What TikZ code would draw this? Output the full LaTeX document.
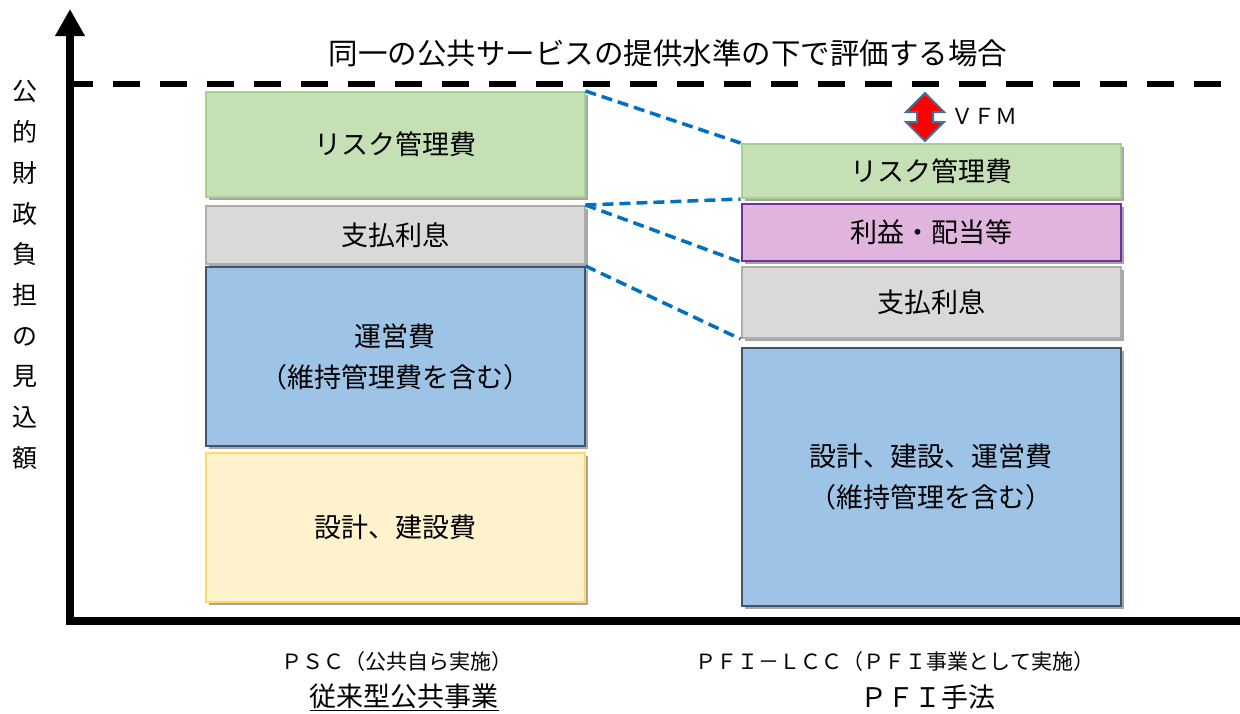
\documentclass[tikz,border=0pt]{standalone}
\usepackage{fontspec}
\setmainfont{Noto Sans CJK JP}
\usetikzlibrary{arrows.meta, positioning, shapes.arrows, shadows}

\definecolor{riskfill}{HTML}{C5E0B4}
\definecolor{riskline}{HTML}{A9D18E}
\definecolor{intfill}{HTML}{D9D9D9}
\definecolor{intline}{HTML}{ADADAD}
\definecolor{opfill}{HTML}{9DC3E6}
\definecolor{opline}{HTML}{44546A}
\definecolor{confill}{HTML}{FFF2CC}
\definecolor{conline}{HTML}{FFD966}
\definecolor{proffill}{HTML}{E0B4DC}
\definecolor{profline}{HTML}{7030A0}
\definecolor{linkblue}{HTML}{0070C0}
\definecolor{vfmline}{HTML}{41719C}

\begin{document}
\begin{tikzpicture}[x=1pt, y=-1pt, node distance=6pt,
    cost/.style={minimum width=379pt, inner sep=0pt, align=center, line width=2pt,
        font=\fontsize{27}{41}\selectfont,
        drop shadow={shadow xshift=3pt, shadow yshift=-3pt, opacity=0.35, fill=black}},
    riskbox/.style={cost, fill=riskfill, draw=riskline},
    intbox/.style={cost, fill=intfill, draw=intline},
    opbox/.style={cost, fill=opfill, draw=opline},
    conbox/.style={cost, fill=confill, draw=conline},
    profbox/.style={cost, fill=proffill, draw=profline},
    link/.style={draw=linkblue, line width=3.5pt, dash pattern=on 11pt off 6pt},
    sublabel/.style={font=\fontsize{21}{25}\selectfont},
    namelabel/.style={font=\fontsize{27}{32}\selectfont}]
    \useasboundingbox (0,0) rectangle (1240,713);

    % level of the public service
    \coordinate (lvlL) at (66,84);
    \coordinate (lvlR) at (1240,84);
    \draw[line width=6pt, dash pattern=on 27pt off 20pt] (lvlL) -- (lvlR);
    \node[font=\fontsize{29.5}{35}\selectfont] (title) at (668,53) {同一の公共サービスの提供水準の下で評価する場合};

    % axes
    \coordinate (origin) at (70,625);
    \coordinate (ytop) at (70,9);
    \coordinate (xleft) at (66,621);
    \coordinate (xend) at (1240,621);
    \draw[line width=8pt, -{Triangle[width=28pt, length=27pt]}] (origin) -- (ytop);
    \draw[line width=8pt] (xleft) -- (xend);
    \node[font=\fontsize{25}{40.7}\selectfont, align=center] (ylabel) at (25,275) {公\\的\\財\\政\\負\\担\\の\\見\\込\\額};

    % PSC
    \node[riskbox, minimum height=105pt] (riskL) at (395,144.5) {リスク管理費};
    \node[intbox, minimum height=58pt, below=7pt of riskL] (intL) {支払利息};
    \node[opbox, minimum height=179pt, below=1pt of intL] (opL) {運営費\\（維持管理費を含む）};
    \node[conbox, minimum height=149pt, below=5pt of opL] (conL) {設計、建設費};

    % PFI-LCC
    \node[riskbox, minimum height=54pt] (riskR) at (931,171) {リスク管理費};
    \node[profbox, minimum height=57pt, below=4pt of riskR] (profR) {利益・配当等};
    \node[intbox, minimum height=71pt, below=4pt of profR] (intR) {支払利息};
    \node[opbox, minimum height=258pt, below=8pt of intR] (allR) {設計、建設、運営費\\（維持管理を含む）};

    % links
    \draw[link] (riskL.north east) -- (riskR.north west);
    \draw[link] (intL.north east) -- (riskR.south west);
    \draw[link] (intL.north east) -- (profR.south west);
    \draw[link] (opL.north east) -- (intR.south west);

    % VFM
    \node[double arrow, rotate=90, fill=red, draw=vfmline, line width=2pt,
        minimum height=48pt, minimum width=36pt, inner sep=7pt,
        double arrow head extend=11pt] (vfm) at (925,117) {};
    \node[font=\fontsize{22}{26}\selectfont, anchor=west] (vfmtext) at (948,116) {ＶＦＭ};

    % captions
    \node[sublabel] (pscL) at (397,662) {ＰＳＣ（公共自ら実施）};
    \node[namelabel] (oldL) at (404,697) {\underline{従来型公共事業}};
    \node[sublabel] (lccR) at (895,662) {ＰＦＩ－ＬＣＣ（ＰＦＩ事業として実施）};
    \node[namelabel] (pfiR) at (928,697) {ＰＦＩ手法};
\end{tikzpicture}
\end{document}
